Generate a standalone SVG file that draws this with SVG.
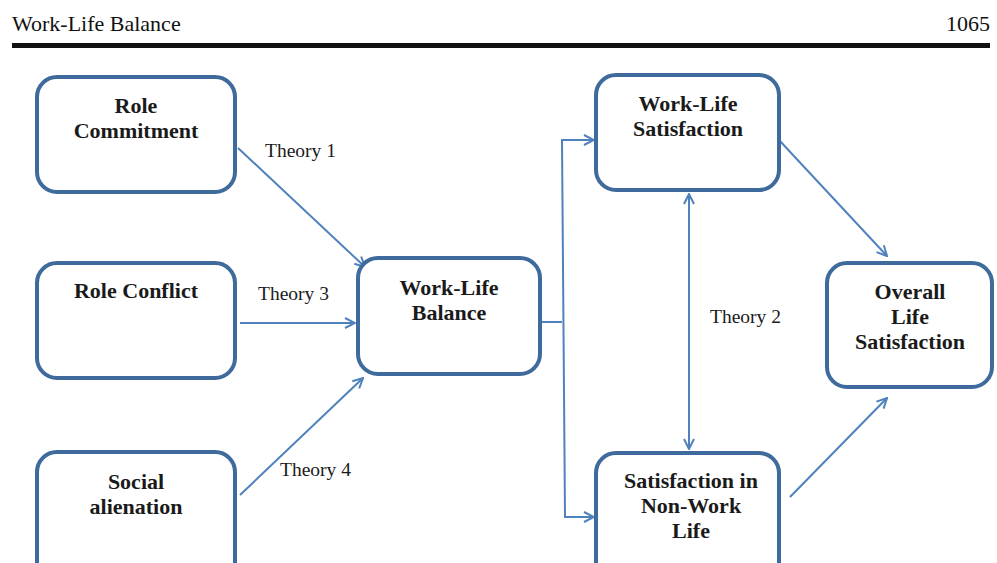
<svg xmlns="http://www.w3.org/2000/svg" width="997" height="563" viewBox="0 0 997 563">
  <style>
    .box { fill: #ffffff; stroke: #3F6A9C; stroke-width: 4; }
    .lbl { font-family: "Liberation Serif", "Times New Roman", serif; font-weight: bold; font-size: 22px; fill: #1a1a1a; text-anchor: middle; }
    .thy { font-family: "Liberation Serif", "Times New Roman", serif; font-size: 19.5px; fill: #1a1a1a; }
    .hdr { font-family: "Liberation Serif", "Times New Roman", serif; font-size: 22px; fill: #111111; }
    .con { fill: none; stroke: #4F81BD; stroke-width: 2; }
  </style>
  <defs>
    <marker id="arr" viewBox="0 0 12 12" refX="11" refY="6" markerWidth="12" markerHeight="12" markerUnits="userSpaceOnUse" orient="auto-start-reverse">
      <path d="M1,1 L11,6 L1,11" fill="none" stroke="#4F81BD" stroke-width="2"/>
    </marker>
  </defs>
  <rect width="997" height="563" fill="#ffffff"/>

  <!-- running header -->
  <g id="header">
    <text class="hdr" x="12" y="31">Work-Life Balance</text>
    <text class="hdr" x="990" y="31" text-anchor="end">1065</text>
    <rect x="12" y="43" width="978" height="5" fill="#111111"/>
  </g>

  <!-- connectors -->
  <g id="connectors">
    <line class="con" x1="238" y1="148" x2="365" y2="267" marker-end="url(#arr)"/>
    <line class="con" x1="240" y1="323" x2="355" y2="323" marker-end="url(#arr)"/>
    <line class="con" x1="240" y1="495" x2="363" y2="378" marker-end="url(#arr)"/>
    <polyline class="con" points="540,322 562,322"/>
    <polyline class="con" points="594,140 562,140 565,517 594,517" marker-start="url(#arr)" marker-end="url(#arr)"/>
    <line class="con" x1="689" y1="194" x2="689" y2="449" marker-start="url(#arr)" marker-end="url(#arr)"/>
    <line class="con" x1="779" y1="140" x2="887" y2="256" marker-end="url(#arr)"/>
    <line class="con" x1="790" y1="497" x2="887" y2="398" marker-end="url(#arr)"/>
    <text class="thy" x="265" y="157">Theory 1</text>
    <text class="thy" x="258" y="300">Theory 3</text>
    <text class="thy" x="280" y="476">Theory 4</text>
    <text class="thy" x="710" y="323">Theory 2</text>
  </g>

  <g id="role-commitment">
    <rect class="box" x="37" y="77" width="198" height="115" rx="20"/>
    <text class="lbl" x="136" y="113">Role</text>
    <text class="lbl" x="136" y="138">Commitment</text>
  </g>

  <g id="role-conflict">
    <rect class="box" x="37" y="263" width="198" height="115" rx="20"/>
    <text class="lbl" x="136" y="298">Role Conflict</text>
  </g>

  <g id="social-alienation">
    <rect class="box" x="37" y="452" width="198" height="130" rx="20"/>
    <text class="lbl" x="136" y="489">Social</text>
    <text class="lbl" x="136" y="514">alienation</text>
  </g>

  <g id="work-life-balance">
    <rect class="box" x="358" y="258" width="182" height="116" rx="20"/>
    <text class="lbl" x="449" y="295">Work-Life</text>
    <text class="lbl" x="449" y="320">Balance</text>
  </g>

  <g id="work-life-satisfaction">
    <rect class="box" x="596" y="75" width="183" height="115" rx="20"/>
    <text class="lbl" x="688" y="111">Work-Life</text>
    <text class="lbl" x="688" y="136">Satisfaction</text>
  </g>

  <g id="non-work-satisfaction">
    <rect class="box" x="596" y="453" width="183" height="130" rx="20"/>
    <text class="lbl" x="691" y="488">Satisfaction in</text>
    <text class="lbl" x="691" y="513">Non-Work</text>
    <text class="lbl" x="691" y="538">Life</text>
  </g>

  <g id="overall-life-satisfaction">
    <rect class="box" x="827" y="263" width="165" height="124" rx="20"/>
    <text class="lbl" x="910" y="299">Overall</text>
    <text class="lbl" x="910" y="324">Life</text>
    <text class="lbl" x="910" y="349">Satisfaction</text>
  </g>
</svg>
